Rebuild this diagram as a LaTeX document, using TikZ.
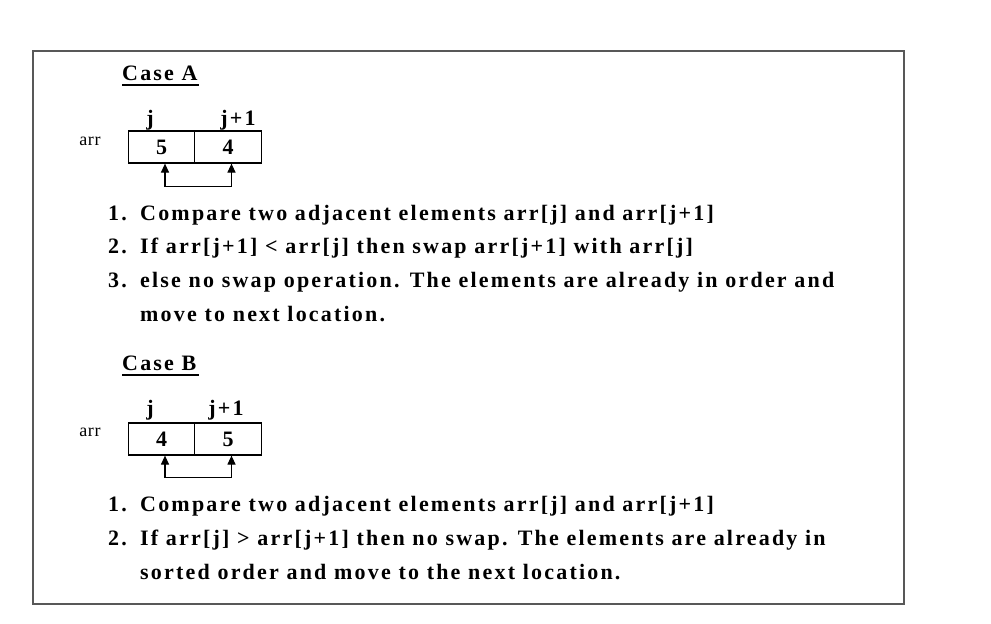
\documentclass[tikz,border=0pt]{standalone}
\usepackage{fontspec}
\setmainfont[LetterSpace=10]{Liberation Serif}
\newfontfamily\arrfont[LetterSpace=4]{Liberation Serif}
\usetikzlibrary{arrows.meta}
\definecolor{framegray}{RGB}{88,88,88}
\tikzset{
  txt/.style={anchor=base west, inner sep=0pt, font=\fontsize{22}{26}\selectfont\bfseries},
  small/.style={anchor=base, inner sep=0pt, font=\arrfont\fontsize{18}{21}\selectfont},
  idx/.style={anchor=base, inner sep=0pt, font=\fontsize{22}{26}\selectfont\bfseries},
  cell/.style={draw=black, line width=1.2pt, minimum width=66.5pt, minimum height=32pt, inner sep=0pt, font=\fontsize{22}{26}\selectfont\bfseries},
  conn/.style={line width=1.2pt, {Triangle[width=8pt,length=9pt]}-{Triangle[width=8pt,length=9pt]}},
  uline/.style={line width=1.5pt}
}
\begin{document}
\begin{tikzpicture}[x=1pt,y=1pt]
\useasboundingbox (0,0) rectangle (991,-624);
\fill[white] (0,0) rectangle (991,-624);
\draw[framegray, line width=1.6pt] (33,-51) rectangle (904,-604);

% Case A
\node[txt] (caseA) at (122,-80) {Case A};
\draw[uline] (122,-85) -- (199,-85);
\node[small] (arrA) at (90,-145) {arr};
\node[cell] (a1) at (161.5,-147) {5};
\node[cell] (a2) at (228,-147) {4};
\node[idx] (ja) at (150,-125) {j};
\node[idx] (j1a) at (238,-125) {j+1};
\draw[conn] ([xshift=3.5pt]a1.south) -- ++(0,-23) -| ([xshift=3.5pt]a2.south);

\node[txt] (na1) at (108,-220) {1.};
\node[txt] (ta1) at (140,-220) {Compare two adjacent elements arr[j] and arr[j+1]};
\node[txt] (na2) at (108,-253) {2.};
\node[txt] (ta2) at (140,-253) {If arr[j+1] < arr[j] then swap arr[j+1] with arr[j]};
\node[txt] (na3) at (108,-287) {3.};
\node[txt] (ta3) at (140,-287) {else no swap operation. The elements are already in order and};
\node[txt] (ta4) at (140,-321) {move to next location.};

% Case B
\node[txt] (caseB) at (122,-370) {Case B};
\draw[uline] (122,-375) -- (199,-375);
\node[small] (arrB) at (90,-436) {arr};
\node[cell] (b1) at (161.5,-439) {4};
\node[cell] (b2) at (228,-439) {5};
\node[idx] (jb) at (150,-415) {j};
\node[idx] (j1b) at (226,-415) {j+1};
\draw[conn] ([xshift=3.5pt]b1.south) -- ++(0,-22) -| ([xshift=3.5pt]b2.south);

\node[txt] (nb1) at (108,-511) {1.};
\node[txt] (tb1) at (140,-511) {Compare two adjacent elements arr[j] and arr[j+1]};
\node[txt] (nb2) at (108,-545) {2.};
\node[txt] (tb2) at (140,-545) {If arr[j] > arr[j+1] then no swap. The elements are already in};
\node[txt] (tb3) at (140,-579) {sorted order and move to the next location.};
\end{tikzpicture}
\end{document}
